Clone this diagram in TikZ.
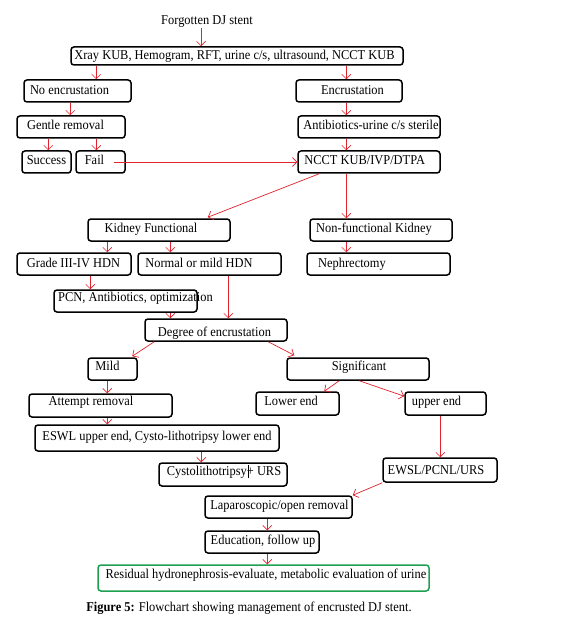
\documentclass[tikz,border=0pt]{standalone}
\usepackage{fontspec}
\setmainfont{Liberation Serif}[FakeStretch=0.92]
\usetikzlibrary{arrows.meta}
\definecolor{arrred}{RGB}{225,35,45}
\definecolor{boxgreen}{RGB}{30,160,80}
\tikzset{
  box/.style={draw=black, line width=1.5pt, rounded corners=3pt, inner sep=0pt},
  txt/.style={inner sep=0pt, font=\fontsize{13.5}{16}\selectfont, anchor=center},
  arr/.style={draw=arrred, line width=0.7pt, -{Straight Barb[length=4.5pt,width=9pt,line width=0.7pt]}}
}
\newcommand{\mkbox}[8]{%
  \node[box, minimum width={#4-#2}, minimum height={#5-#3}] (#1) at ({(#2+#4)/2},{(#3+#5)/2}) {};
  \node[txt] (#1-t) at (#6,#7) {\strut #8};
}
\begin{document}
\begin{tikzpicture}[x=1pt,y=-1pt]
\useasboundingbox[fill=white] (0,0) rectangle (566,620);
\node[txt] (start) at (207,22) {Forgotten DJ stent};
\mkbox{b1}{71}{47}{403}{65}{234.5}{56}{Xray KUB, Hemogram, RFT, urine c/s, ultrasound, NCCT KUB}
\mkbox{noenc}{24}{80}{131}{102}{69.5}{91}{No encrustation}
\mkbox{enc}{296}{80}{402}{102}{352.5}{91}{Encrustation}
\mkbox{gentle}{17}{116}{125}{138}{65.5}{126}{Gentle removal}
\mkbox{antib}{298}{116}{440}{138}{371}{126}{Antibiotics-urine c/s sterile}
\mkbox{success}{22}{151}{71}{173}{46.5}{161}{Success}
\mkbox{fail}{76}{151}{125}{173}{94.5}{161}{Fail}
\mkbox{ncct}{298}{151}{440}{173}{364.7}{161}{NCCT KUB/IVP/DTPA}
\mkbox{kf}{88}{219}{230}{241}{151}{229.5}{Kidney Functional}
\mkbox{nonf}{310}{219}{452}{241}{374}{229.5}{Non-functional Kidney}
\mkbox{grade}{17}{253}{131}{275}{73.5}{264}{Grade III-IV HDN}
\mkbox{normal}{138}{253}{281}{275}{199}{264}{Normal or mild HDN}
\mkbox{nephr}{307}{253}{450}{275}{352}{264.5}{Nephrectomy}
\mkbox{pcn}{54}{290}{197}{312}{135.5}{298.5}{PCN, Antibiotics, optimization}
\mkbox{degree}{145}{319}{287}{341}{214.5}{333}{Degree of encrustation}
\mkbox{mild}{88}{358}{137}{380}{107.5}{367}{Mild}
\mkbox{signif}{287}{358}{429}{380}{359}{367}{Significant}
\mkbox{attempt}{29}{394}{172}{417}{91}{402.5}{Attempt removal}
\mkbox{lower}{256}{392}{339}{415}{291}{402.5}{Lower end}
\mkbox{upper}{405}{392}{486}{415}{436.5}{402.5}{upper end}
\mkbox{eswl}{35}{425}{279}{451}{157}{437}{ESWL upper end, Cysto-lithotripsy lower end}
\mkbox{cysto}{159}{463}{287}{486}{224}{472}{Cystolithotripsy+ URS}
\mkbox{ewsl}{383}{458}{497}{482}{436}{471.5}{EWSL/PCNL/URS}
\mkbox{lap}{205}{496}{352}{518}{279.5}{506}{Laparoscopic/open removal}
\mkbox{edu}{205}{531}{319}{553}{263}{541}{Education, follow up}
\node[box, draw=boxgreen, minimum width=331, minimum height=26] (resid) at (263.5,578) {};
\node[txt] (resid-t) at (266,575.5) {\strut Residual hydronephrosis-evaluate, metabolic evaluation of urine};
\node[txt] (caption) at (249,608) {\textbf{Figure 5:} Flowchart showing management of encrusted DJ stent.};
% stray cursor mark
\draw[line width=0.6pt] (248,465) -- (248,478);
% connectors
\draw[arr] ([xshift=-6pt]start.south) -- ([xshift=-36pt]b1.north);
\draw[arr] ([xshift=26pt]b1.south west) -- ([xshift=73pt]noenc.north west);
\draw[arr] ([xshift=276pt]b1.south west) -- ([xshift=51pt]enc.north west);
\draw[arr] ([xshift=47pt]noenc.south west) -- ([xshift=54pt]gentle.north west);
\draw[arr] ([xshift=51pt]enc.south west) -- ([xshift=49pt]antib.north west);
\draw[arr] ([xshift=32pt]gentle.south west) -- ([xshift=27pt]success.north west);
\draw[arr] ([xshift=80pt]gentle.south west) -- ([xshift=21pt]fail.north west);
\draw[arr] ([xshift=-12pt]fail.east) -- (ncct.west);
\draw[arr] ([xshift=49pt]antib.south west) -- ([xshift=49pt]ncct.north west);
\draw[arr] ([xshift=22pt]ncct.south west) -- ([xshift=-23pt,yshift=1pt]kf.north east);
\draw[arr] ([xshift=49pt]ncct.south west) -- ([xshift=37pt]nonf.north west);
\draw[arr] ([xshift=20pt]kf.south west) -- ([xshift=91pt]grade.north west);
\draw[arr] ([xshift=83pt]kf.south west) -- ([xshift=33pt]normal.north west);
\draw[arr] ([xshift=37pt]nonf.south west) -- ([xshift=40pt]nephr.north west);
\draw[arr] ([xshift=74pt]grade.south west) -- ([xshift=37pt]pcn.north west);
\draw[arr] ([xshift=117pt]pcn.south west) -- ([xshift=26pt]degree.north west);
\draw[arr] ([xshift=91pt]normal.south west) -- ([xshift=84pt]degree.north west);
\draw[arr] ([xshift=10pt]degree.south west) -- ([xshift=45pt,yshift=1pt]mild.north west);
\draw[arr] ([xshift=124pt]degree.south west) -- ([xshift=8pt,yshift=2pt]signif.north west);
\draw[arr] ([xshift=20pt]mild.south west) -- ([xshift=79pt]attempt.north west);
\draw[arr] ([xshift=53pt]signif.south west) -- ([xshift=69pt]lower.north west);
\draw[arr] ([xshift=73pt]signif.south west) -- ([yshift=-5pt]upper.north west);
\draw[arr] ([xshift=79pt]attempt.south west) -- ([xshift=73pt]eswl.north west);
\draw[arr] ([xshift=167pt]eswl.south west) -- ([xshift=43pt]cysto.north west);
\draw[arr] ([xshift=36pt]upper.south west) -- ([xshift=58pt]ewsl.north west);
\draw[arr] (ewsl.south west) -- (lap.north east);
\draw[arr] ([xshift=63pt]lap.south west) -- ([xshift=63pt]edu.north west);
\draw[arr] ([xshift=63pt]edu.south west) -- ([xshift=170pt]resid.north west);
\end{tikzpicture}
\end{document}
